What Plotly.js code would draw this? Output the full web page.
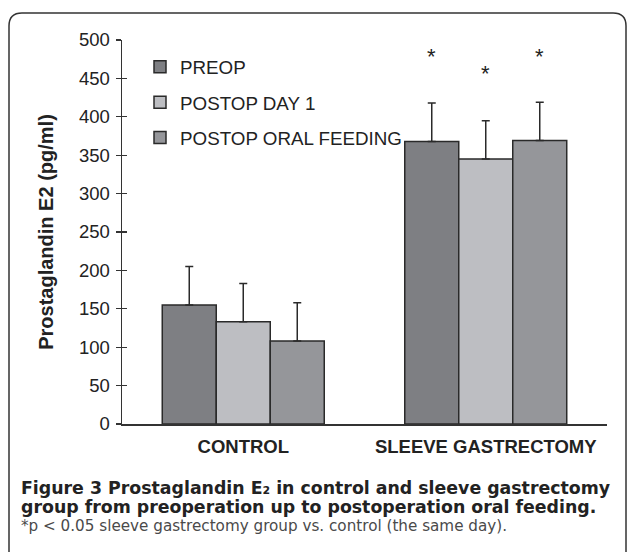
<!DOCTYPE html>
<html>
<head>
<meta charset="utf-8">
<script src="https://cdn.plot.ly/plotly-3.0.1.min.js"></script>
<style>html,body{margin:0;padding:0;background:#fff;}#chart{width:627px;height:552px;}</style>
</head>
<body>
<div id="chart"></div>
<script>
const categories = ['CONTROL', 'SLEEVE GASTRECTOMY'];
const seriesNames = ['PREOP', 'POSTOP DAY 1', 'POSTOP ORAL FEEDING'];
const preop = [155, 368];
const day1 = [133, 345];
const oral = [108, 369];
const preopErr = [50, 50];
const day1Err = [50, 50];
const oralErr = [50, 50];
const starY = [479, 457, 478];   // asterisk heights over the sleeve gastrectomy bars
const yTicks = [0, 50, 100, 150, 200, 250, 300, 350, 400, 450, 500];

const W = 627, H = 552, L = 122, R = 20, T = 40, B = 128;
const pw = W - L - R, ph = H - T - B;
const px = x => (x - L) / pw;
const py = y => (H - B - y) / ph;

const ARIAL = 'Liberation Sans, Arial, sans-serif';
const CAP = 'DejaVu Sans, sans-serif';
const colors = ['#7e7f83', '#bdbec2', '#95969a'];
const vals = [preop, day1, oral];
const errs = [preopErr, day1Err, oralErr];

const traces = seriesNames.map((n, i) => ({
  type: 'bar', name: n, x: categories, y: vals[i],
  legendgroup: 'g' + i,
  marker: {color: colors[i], line: {color: '#2a2a2a', width: 1.5}},
  error_y: {type: 'data', symmetric: false, array: errs[i], arrayminus: errs[i].map(() => 0),
            color: '#2a2a2a', thickness: 1.5, width: 4}
}));
// invisible trace to hold the crossing ticks axis
traces.push({type: 'scatter', x: [categories[0]], y: [0], yaxis: 'y2', mode: 'none', showlegend: false, hoverinfo: 'skip'});

const bargap = 0.332;
const barW = (pw / 2) * (1 - bargap) / 3;

const annotations = [];
starY.forEach((v, i) => {
  annotations.push({x: categories[1], y: v, xref: 'x', yref: 'y', text: '*', showarrow: false,
    xshift: (i - 1) * barW, font: {family: ARIAL, size: 22, color: '#222'}, yanchor: 'middle'});
});
annotations.push({xref: 'paper', yref: 'paper', x: px(19), y: py(488), xanchor: 'left', yanchor: 'middle', showarrow: false,
  text: '<b>Figure 3</b> Prostaglandin E₂ in control and sleeve gastrectomy',
  font: {family: CAP, size: 17.35, weight: 'bold', color: '#222'}});
annotations.push({xref: 'paper', yref: 'paper', x: px(19), y: py(507), xanchor: 'left', yanchor: 'middle', showarrow: false,
  text: 'group from preoperation up to postoperation oral feeding.',
  font: {family: CAP, size: 17.35, weight: 'bold', color: '#222'}});
annotations.push({xref: 'paper', yref: 'paper', x: px(19), y: py(526), xanchor: 'left', yanchor: 'middle', showarrow: false,
  text: '*p < 0.05 sleeve gastrectomy group vs. control (the same day).',
  font: {family: CAP, size: 15.2, color: '#4a4a4a'}});

// rounded frame (top corners rounded, open at bottom)
const r = 13;
const x0 = 9, x1 = 626, y0 = 13, y1 = 600;
const framePath = `M ${px(x0)},${py(y1)} L ${px(x0)},${py(y0 + r)} Q ${px(x0)},${py(y0)} ${px(x0 + r)},${py(y0)} ` +
  `L ${px(x1 - r)},${py(y0)} Q ${px(x1)},${py(y0)} ${px(x1)},${py(y0 + r)} L ${px(x1)},${py(y1)}`;

const layout = {
  width: W, height: H,
  margin: {l: L, r: R, t: T, b: B, pad: 0},
  paper_bgcolor: '#fff', plot_bgcolor: 'rgba(0,0,0,0)',
  barmode: 'group', bargap: bargap, bargroupgap: 0,
  showlegend: true,
  legend: {x: px(140), y: py(48), xanchor: 'left', yanchor: 'top', bgcolor: 'rgba(0,0,0,0)',
    font: {family: ARIAL, size: 18.8, color: '#222'}, tracegroupgap: 8, itemwidth: 30,
    traceorder: 'grouped'},
  xaxis: {showline: true, linecolor: '#333', linewidth: 1.5, ticks: '', showgrid: false, zeroline: false,
    ticklabelstandoff: 5,
    tickfont: {family: ARIAL, size: 18.5, weight: 'bold', color: '#222'}},
  yaxis: {range: [0, 500], tickvals: yTicks, showline: true, linecolor: '#333', linewidth: 1.5,
    ticks: 'outside', ticklen: 5, tickwidth: 1.3, tickcolor: '#333', showgrid: false, zeroline: false,
    ticklabelstandoff: 2,
    tickfont: {family: ARIAL, size: 18.5, color: '#222'},
    title: {text: '<b>Prostaglandin E2 (pg/ml)</b>', font: {family: ARIAL, size: 20, color: '#222'}, standoff: 20}},
  yaxis2: {range: [0, 500], tickvals: yTicks, overlaying: 'y', side: 'left', ticks: 'inside', ticklen: 5,
    tickwidth: 1.3, tickcolor: '#333', showticklabels: false, showgrid: false, zeroline: false, showline: false},
  shapes: [{type: 'path', xref: 'paper', yref: 'paper', path: framePath, line: {color: '#333', width: 1.5}}],
  annotations: annotations
};

Plotly.newPlot('chart', traces, layout, {displayModeBar: false, staticPlot: true});
</script>
</body>
</html>
